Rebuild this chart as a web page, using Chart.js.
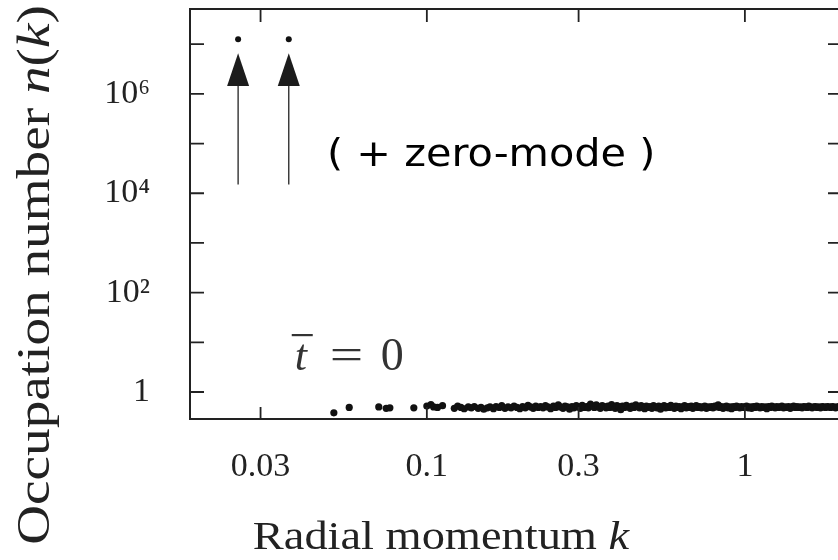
<!DOCTYPE html>
<html>
<head>
<meta charset="utf-8">
<script src="https://cdn.jsdelivr.net/npm/chart.js@4.4.1/dist/chart.umd.min.js"></script>
<style>
  html, body { margin: 0; padding: 0; background: #fff; overflow: hidden; }
  #wrap { width: 838px; height: 560px; overflow: hidden; }
</style>
</head>
<body>
<div id="wrap"><canvas id="chart" width="850" height="560"></canvas></div>
<script>
// zero-mode points at the top
const zeroModeK = [0.0255, 0.0368]
const zeroModeN = [1.26e7, 1.26e7]

// vacuum band at n ~ 1/2
const vacuumK = [
  0.051, 0.057, 0.0706, 0.0745, 0.0765, 0.091, 0.100, 0.103, 0.105, 0.108, 0.112,
  0.122, 0.125, 0.128, 0.131, 0.135, 0.138, 0.141, 0.145, 0.148, 0.151,
  0.155, 0.158, 0.162, 0.165, 0.169, 0.172, 0.176, 0.180, 0.184, 0.188,
  0.192, 0.196, 0.200, 0.204, 0.208, 0.212, 0.216, 0.220, 0.224, 0.228,
  0.232, 0.236, 0.240, 0.245, 0.250, 0.254, 0.259, 0.263, 0.268, 0.272,
  0.277, 0.281, 0.286, 0.290, 0.295, 0.299, 0.304, 0.308, 0.313, 0.318,
  0.322, 0.327, 0.332, 0.336, 0.341, 0.346, 0.351, 0.356, 0.361, 0.366,
  0.371, 0.376, 0.381, 0.386, 0.391, 0.396, 0.402, 0.407, 0.412, 0.418,
  0.424, 0.430, 0.436, 0.442, 0.448, 0.454, 0.460, 0.466, 0.472, 0.478,
  0.484, 0.490, 0.497, 0.503, 0.510, 0.516, 0.523, 0.529, 0.536, 0.543,
  0.550, 0.557, 0.564, 0.571, 0.578, 0.585, 0.592, 0.600, 0.607, 0.615,
  0.622, 0.630, 0.638, 0.646, 0.654, 0.662, 0.670, 0.678, 0.686, 0.695,
  0.703, 0.712, 0.721, 0.730, 0.739, 0.748, 0.757, 0.766, 0.775, 0.785,
  0.794, 0.804, 0.814, 0.824, 0.834, 0.844, 0.854, 0.865, 0.875, 0.886,
  0.897, 0.908, 0.919, 0.930, 0.941, 0.953, 0.964, 0.976, 0.988, 1.000,
  1.012, 1.025, 1.037, 1.050, 1.063, 1.076, 1.089, 1.102, 1.116, 1.130,
  1.144, 1.158, 1.172, 1.186, 1.201, 1.215, 1.230, 1.245, 1.260, 1.276,
  1.291, 1.307, 1.323, 1.339, 1.356, 1.372, 1.389, 1.406, 1.423, 1.441,
  1.458, 1.476, 1.494, 1.513, 1.531, 1.550, 1.569, 1.588, 1.607, 1.627,
  1.647, 1.667, 1.687, 1.708, 1.729, 1.750, 1.771, 1.793, 1.815, 1.837,
  1.859, 1.882, 1.905, 1.928, 1.952, 1.976, 2.000, 2.024, 2.049, 2.074
]
const vacuumN = [
  0.38, 0.49, 0.50, 0.47, 0.48, 0.48, 0.52, 0.56, 0.50, 0.49, 0.53,
  0.47, 0.52, 0.49, 0.46, 0.50, 0.48, 0.51, 0.47, 0.49, 0.45,
  0.48, 0.50, 0.46, 0.51, 0.49, 0.53, 0.47, 0.50, 0.48, 0.52,
  0.49, 0.46, 0.51, 0.48, 0.54, 0.50, 0.47, 0.52, 0.49, 0.51,
  0.48, 0.53, 0.50, 0.46, 0.52, 0.49, 0.55, 0.50, 0.47, 0.52,
  0.50, 0.45, 0.51, 0.48, 0.53, 0.50, 0.47, 0.54, 0.49, 0.51,
  0.48, 0.57, 0.52, 0.49, 0.55, 0.50, 0.47, 0.53, 0.51, 0.48,
  0.52, 0.49, 0.56, 0.50, 0.47, 0.53, 0.51, 0.44, 0.52, 0.49,
  0.54, 0.50, 0.47, 0.52, 0.49, 0.55, 0.51, 0.48, 0.53, 0.50,
  0.46, 0.52, 0.49, 0.51, 0.47, 0.53, 0.50, 0.48, 0.52, 0.45,
  0.50, 0.53, 0.48, 0.51, 0.49, 0.54, 0.50, 0.47, 0.52, 0.49,
  0.51, 0.46, 0.50, 0.53, 0.48, 0.51, 0.49, 0.52, 0.47, 0.50,
  0.53, 0.49, 0.51, 0.48, 0.50, 0.52, 0.47, 0.50, 0.49, 0.51,
  0.48, 0.52, 0.50, 0.55, 0.49, 0.51, 0.47, 0.50, 0.52, 0.48,
  0.50, 0.46, 0.51, 0.49, 0.52, 0.50, 0.48, 0.51, 0.49, 0.50,
  0.52, 0.48, 0.50, 0.47, 0.51, 0.49, 0.52, 0.50, 0.48, 0.51,
  0.49, 0.50, 0.46, 0.51, 0.49, 0.52, 0.50, 0.48, 0.51, 0.49,
  0.50, 0.52, 0.48, 0.50, 0.49, 0.51, 0.47, 0.50, 0.52, 0.49,
  0.51, 0.49, 0.50, 0.48, 0.51, 0.50, 0.49, 0.52, 0.50, 0.48,
  0.50, 0.51, 0.49, 0.50, 0.48, 0.51, 0.50, 0.49, 0.51, 0.50,
  0.49, 0.51, 0.50, 0.48, 0.50, 0.51, 0.49, 0.50, 0.51, 0.50
]

const xTickValues = [0.03, 0.1, 0.3, 1]
const xTickLabels = ['0.03', '0.1', '0.3', '1']
const yTickValues = [1, 1e1, 1e2, 1e3, 1e4, 1e5, 1e6, 1e7]
const yTickLabels = ['1', '', '10²', '', '10⁴', '', '10⁶', '']

// annotation anchors (data coordinates)
const arrowFrom = 1.5e4
const arrowBase = 1.44e6
const arrowTip = 6.6e6
const noteText = '( + zero-mode )'
const noteAt = { x: 0.0485, y: 3.5e4 }
const timeAt = { x: 0.0376, y: 2.77 }

const ink = '#1c1c1c'
const serif = '"Liberation Serif", "Times New Roman", serif'

function toPoints(xs, ys) {
  return xs.map((v, i) => ({ x: v, y: ys[i] }))
}

// draw a row of text pieces with different fonts, stretched horizontally
function drawRuns(ctx, runs, x, y, stretch, align) {
  let total = 0
  runs.forEach(r => { ctx.font = r.font; total += ctx.measureText(r.text).width })
  ctx.save()
  ctx.translate(x, y)
  ctx.scale(stretch, 1)
  let cx = align === 'center' ? -total / 2 : 0
  ctx.textAlign = 'left'
  ctx.textBaseline = 'alphabetic'
  runs.forEach(r => {
    ctx.font = r.font
    ctx.fillText(r.text, cx, 0)
    cx += ctx.measureText(r.text).width
  })
  ctx.restore()
}

const overlay = {
  id: 'overlay',
  afterDraw(chart) {
    const { ctx, chartArea: a, scales: { x, y } } = chart
    ctx.save()
    ctx.strokeStyle = '#222'
    ctx.fillStyle = ink

    // frame
    ctx.lineWidth = 2
    ctx.strokeRect(a.left, a.top, a.right - a.left, a.bottom - a.top)

    // inward tick marks
    ctx.lineWidth = 1.8
    ctx.beginPath()
    xTickValues.forEach(v => {
      const px = x.getPixelForValue(v)
      ctx.moveTo(px, a.bottom); ctx.lineTo(px, a.bottom - 12)
      ctx.moveTo(px, a.top); ctx.lineTo(px, a.top + 13)
    })
    yTickValues.forEach(v => {
      const py = y.getPixelForValue(v)
      ctx.moveTo(a.left, py); ctx.lineTo(a.left + 14, py)
      ctx.moveTo(a.right, py); ctx.lineTo(a.right - 14, py)
    })
    ctx.stroke()

    // arrows pointing at the zero modes
    zeroModeK.forEach(k => {
      const px = x.getPixelForValue(k)
      const y0 = y.getPixelForValue(arrowFrom)
      const yb = y.getPixelForValue(arrowBase)
      const yt = y.getPixelForValue(arrowTip)
      ctx.lineWidth = 1.3
      ctx.beginPath()
      ctx.moveTo(px, y0); ctx.lineTo(px, yb)
      ctx.stroke()
      ctx.beginPath()
      ctx.moveTo(px, yt); ctx.lineTo(px - 11, yb); ctx.lineTo(px + 11, yb)
      ctx.closePath()
      ctx.fill()
    })

    // "( + zero-mode )"
    ctx.fillStyle = '#000'
    drawRuns(ctx, [{ text: noteText, font: '37px "DejaVu Sans", Verdana, sans-serif' }],
      x.getPixelForValue(noteAt.x), y.getPixelForValue(noteAt.y), 1.12, 'left')

    // t-bar = 0
    ctx.fillStyle = '#333'
    const tx = x.getPixelForValue(timeAt.x)
    const ty = y.getPixelForValue(timeAt.y)
    ctx.font = 'italic 44px ' + serif
    ctx.fillText('t', tx + 3, ty)
    ctx.fillRect(tx, ty - 36, 21, 2.2)
    drawRuns(ctx, [{ text: '=', font: '44px ' + serif }], tx + 38, ty - 1, 1.35, 'left')
    ctx.font = '46px ' + serif
    ctx.fillText('0', tx + 89, ty)

    // axis titles
    ctx.fillStyle = '#222'
    drawRuns(ctx, [
      { text: 'Radial momentum ', font: '40px ' + serif },
      { text: 'k', font: 'italic 40px ' + serif }
    ], 441, 549, 1.16, 'center')

    ctx.save()
    ctx.translate(49, 275)
    ctx.rotate(-Math.PI / 2)
    drawRuns(ctx, [
      { text: 'Occupation number ', font: '46px ' + serif },
      { text: 'n', font: 'italic 46px ' + serif },
      { text: '(', font: '46px ' + serif },
      { text: 'k', font: 'italic 46px ' + serif },
      { text: ')', font: '46px ' + serif }
    ], 0, 0, 1.2, 'center')
    ctx.restore()

    ctx.restore()
  }
}

const tickFont = { family: serif, size: 34 }

new Chart(document.getElementById('chart'), {
  type: 'scatter',
  data: {
    datasets: [
      {
        data: toPoints(zeroModeK, zeroModeN),
        backgroundColor: '#111',
        borderWidth: 0,
        pointRadius: 3
      },
      {
        data: toPoints(vacuumK, vacuumN),
        backgroundColor: '#111',
        borderWidth: 0,
        pointRadius: 3.6
      }
    ]
  },
  options: {
    responsive: false,
    animation: false,
    devicePixelRatio: 1,
    layout: { padding: { top: 9, right: 8, left: 0, bottom: 0 } },
    plugins: {
      legend: { display: false },
      tooltip: { enabled: false }
    },
    scales: {
      x: {
        type: 'logarithmic',
        min: 0.018,
        max: 2.02,
        afterBuildTicks: s => { s.ticks = xTickValues.map(v => ({ value: v })) },
        afterFit: s => {
          s.height = 141
          s.paddingLeft = 0
          s.paddingRight = 0
        },
        grid: { display: false, drawTicks: false },
        border: { display: false },
        ticks: {
          callback: (v, i) => xTickLabels[i],
          font: tickFont,
          color: '#222',
          padding: 28,
          maxRotation: 0,
          autoSkip: false
        }
      },
      y: {
        type: 'logarithmic',
        min: 0.286,
        max: 5.1e7,
        afterBuildTicks: s => { s.ticks = yTickValues.map(v => ({ value: v })) },
        afterFit: s => {
          s.width = 190
          s.paddingTop = 0
          s.paddingBottom = 0
        },
        grid: { display: false, drawTicks: false },
        border: { display: false },
        ticks: {
          callback: (v, i) => yTickLabels[i],
          font: tickFont,
          color: '#222',
          padding: 40,
          autoSkip: false
        }
      }
    }
  },
  plugins: [overlay]
})
</script>
</body>
</html>
